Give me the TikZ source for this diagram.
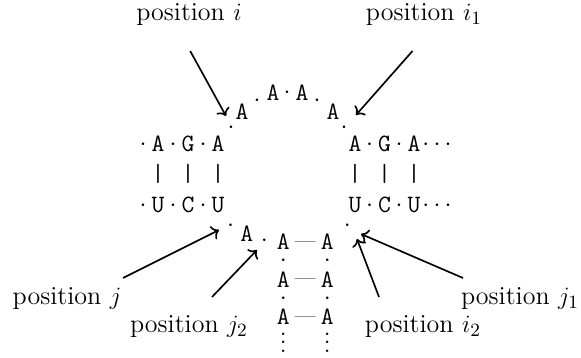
\documentclass[tikz,border=0pt]{standalone}
\usetikzlibrary{arrows.meta}
\newcommand\myvdots{\vbox{\baselineskip4pt\lineskiplimit0pt\hbox{.}\hbox{.}\hbox{.}}}
\begin{document}
\begin{tikzpicture}[x=0.4808pt,y=-0.4808pt,
  nt/.style={font=\large\ttfamily, inner sep=0pt, anchor=base, yshift=-3.67pt},
  dt/.style={font=\large, inner sep=0pt, anchor=base, yshift=-3pt},
  pairdash/.style={font=\normalsize, inner sep=0pt, anchor=base, yshift=-2.6pt},
  bar/.style={font=\large\ttfamily, inner sep=0pt},
  vd/.style={font=\large, inner sep=0pt, anchor=south},
  lab/.style={font=\fontsize{12.5}{15}\selectfont, inner sep=0pt, anchor=base},
  arr/.style={->, thick}]
\useasboundingbox (0,0) rectangle (581,358);
% top loop
\node[nt] (a1) at (242,112) {A};
\node[nt] (a2) at (273,93) {A};
\node[nt] (a3) at (302,93) {A};
\node[nt] (a4) at (333,112) {A};
\node[dt] (d0) at (231,127) {$\cdot$};
\node[dt] (d1) at (257,100) {$\cdot$};
\node[dt] (d2) at (287,92) {$\cdot$};
\node[dt] (d3) at (317,100) {$\cdot$};
\node[dt] (d4) at (344,127) {$\cdot$};
% left stem
\node[dt] (la0) at (143,144.3) {$\cdot$};
\node[nt] (la1) at (158,144.3) {A};
\node[dt] (la2) at (173,144.3) {$\cdot$};
\node[nt] (la3) at (188,144.3) {G};
\node[dt] (la4) at (203,144.3) {$\cdot$};
\node[nt] (la5) at (218,144.3) {A};
\node[bar] (lb1) at (158,174) {|};
\node[bar] (lb2) at (188,174) {|};
\node[bar] (lb3) at (218,174) {|};
\node[dt] (lu0) at (143,205) {$\cdot$};
\node[nt] (lu1) at (158,205) {U};
\node[dt] (lu2) at (173,205) {$\cdot$};
\node[nt] (lu3) at (188,205) {C};
\node[dt] (lu4) at (203,205) {$\cdot$};
\node[nt] (lu5) at (218,205) {U};
% right stem
\node[nt] (ra1) at (355,144.3) {A};
\node[dt] (ra2) at (369.5,144.3) {$\cdot$};
\node[nt] (ra3) at (384.5,144.3) {G};
\node[dt] (ra4) at (399,144.3) {$\cdot$};
\node[nt] (ra5) at (414,144.3) {A};
\node[dt] (ra6) at (437,144.3) {$\cdots$};
\node[bar] (rb1) at (355,174) {|};
\node[bar] (rb2) at (384.5,174) {|};
\node[bar] (rb3) at (414,174) {|};
\node[nt] (ru1) at (355,205) {U};
\node[dt] (ru2) at (369.5,205) {$\cdot$};
\node[nt] (ru3) at (384.5,205) {C};
\node[dt] (ru4) at (399,205) {$\cdot$};
\node[nt] (ru5) at (414,205) {U};
\node[dt] (ru6) at (437,205) {$\cdots$};
% bottom
\node[dt] (b0) at (230.7,225) {$\cdot$};
\node[nt] (b1) at (246.7,234) {A};
\node[dt] (b2) at (264.3,240.7) {$\cdot$};
\node[dt] (b3) at (347.3,225) {$\cdot$};
\node[nt] (c1l) at (283.3,241.7) {A};
\node[nt] (c1r) at (327.3,241.7) {A};
\node[pairdash] (c1d) at (305.3,241.7) {---};
\node[dt] (c1a) at (283.3,260) {$\cdot$};
\node[dt] (c1b) at (327.3,260) {$\cdot$};
\node[nt] (c2l) at (283.3,279.5) {A};
\node[nt] (c2r) at (327.3,279.5) {A};
\node[pairdash] (c2d) at (305.3,279.5) {---};
\node[dt] (c2a) at (283.3,298) {$\cdot$};
\node[dt] (c2b) at (327.3,298) {$\cdot$};
\node[nt] (c3l) at (283.3,317) {A};
\node[nt] (c3r) at (327.3,317) {A};
\node[pairdash] (c3d) at (305.3,317) {---};
\node[vd] (v1) at (283.3,352.5) {\myvdots};
\node[vd] (v2) at (327.3,352.5) {\myvdots};
% labels
\node[lab] (li) at (189,21) {position $i$};
\node[lab] (li1) at (424,21) {position $i_1$};
\node[lab] (lj) at (67,305) {position $j$};
\node[lab] (lj2) at (189,333) {position $j_2$};
\node[lab] (li2) at (423,333) {position $i_2$};
\node[lab] (lj1) at (520,305) {position $j_1$};
% arrow ends
\coordinate (si) at (190.2,51);  \coordinate (ti) at (226,116);
\coordinate (si1) at (412.5,51); \coordinate (ti1) at (356,115);
\coordinate (sj) at (123,278);  \coordinate (tj) at (219,230);
\coordinate (sj2) at (212,297); \coordinate (tj2) at (257,250);
\coordinate (si2) at (379,297); \coordinate (ti2) at (357,239);
\coordinate (sj1) at (463,278); \coordinate (tj1) at (361,234);
\draw[arr] (si) -- (ti);
\draw[arr] (si1) -- (ti1);
\draw[arr] (sj) -- (tj);
\draw[arr] (sj2) -- (tj2);
\draw[arr] (si2) -- (ti2);
\draw[arr] (sj1) -- (tj1);
\end{tikzpicture}
\end{document}
